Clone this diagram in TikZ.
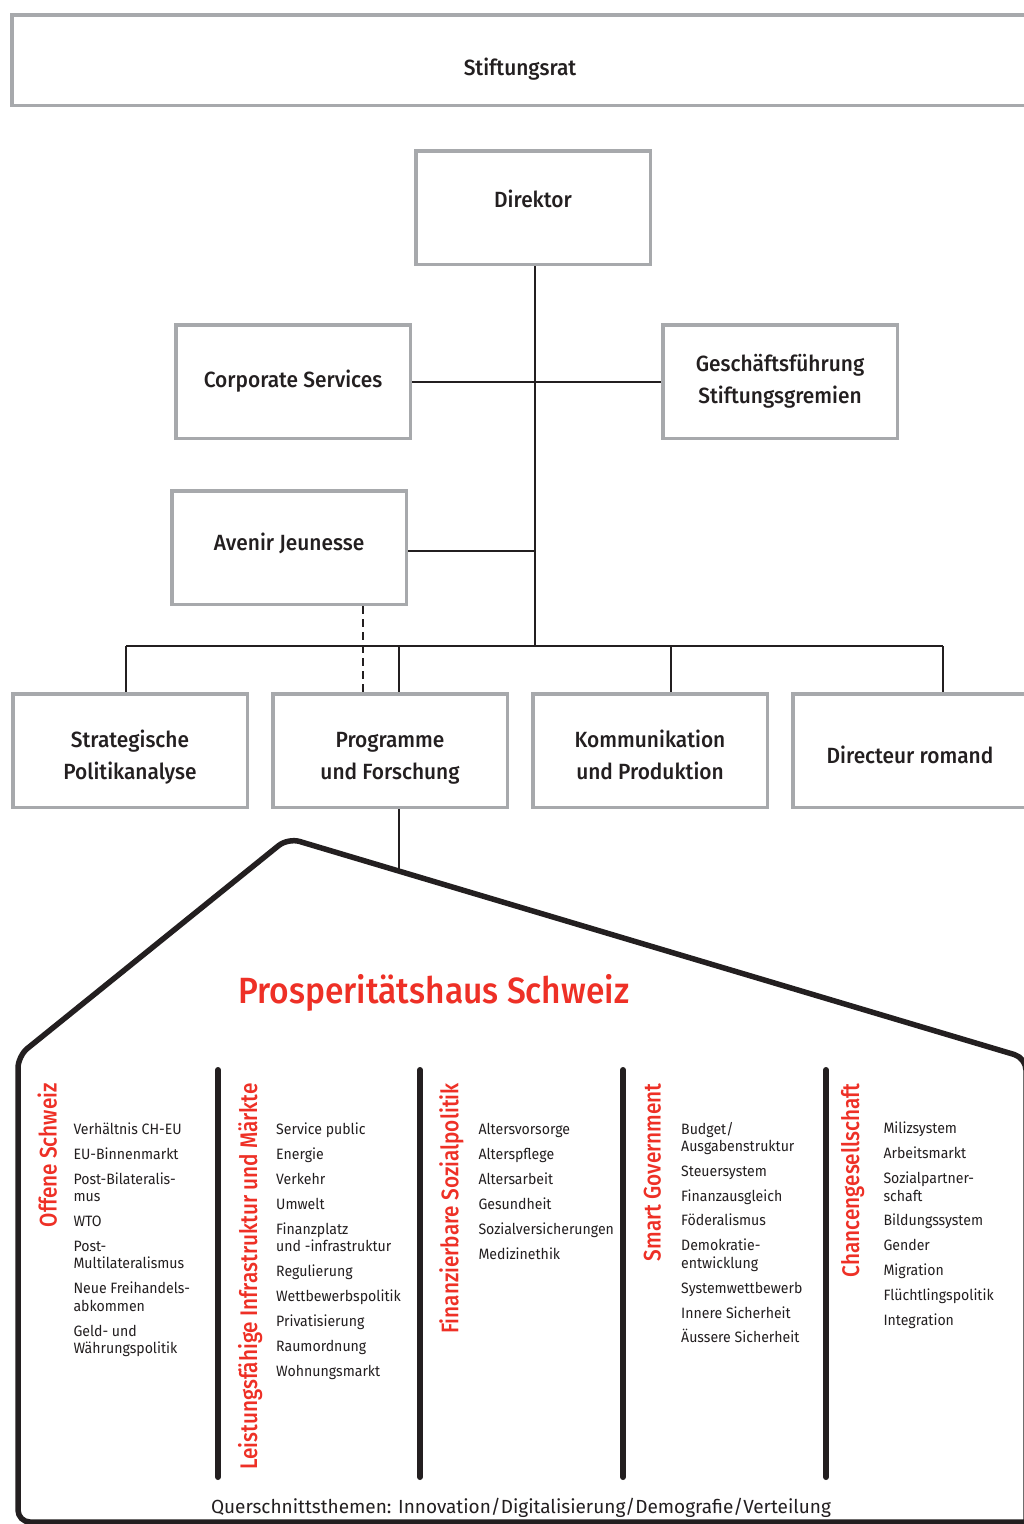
\documentclass[tikz,border=0pt]{standalone}
\usepackage{fontspec}
\setmainfont{Fira Sans}[FakeStretch=0.94]
\newfontfamily\qfont{Fira Sans}
\newfontfamily\medfont{Fira Sans Medium}[FakeStretch=0.95]
\newfontfamily\phfont{Fira Sans Medium}[FakeStretch=0.92]
\newfontfamily\ttlfont{Fira Sans Medium}[FakeStretch=0.865]
\definecolor{boxgray}{HTML}{A7A9AC}
\definecolor{ink}{HTML}{231F20}
\definecolor{hred}{HTML}{EE3026}
\newcommand\itm[4]{\node[itm] (#1) at (#2,#3) {#4};}
\begin{document}
\begin{tikzpicture}[x=1pt,y=-1pt,
  box/.style={draw=boxgray, line width=3.5pt, inner sep=0pt, fill=white,
    minimum width=234.5pt, minimum height=113.5pt},
  boxtxt/.style={font=\medfont\fontsize{22}{32}\selectfont, text=ink, align=center,
    inner sep=0pt, text height=15pt, text depth=0pt},
  conn/.style={draw=ink, line width=2pt},
  itm/.style={anchor=base west, inner sep=0pt, font=\fontsize{15}{17.5}\selectfont, text=ink},
  ttl/.style={anchor=base east, rotate=90, inner sep=0pt,
    font=\ttlfont\fontsize{24}{24}\selectfont, text=hred},
  pillar/.style={draw=ink, line width=6pt, line cap=round},
  house/.style={draw=ink, line width=5.5pt, rounded corners=12pt, line join=round}]
\useasboundingbox (0,0) rectangle (1024,1524);
\clip (0,0) rectangle (1024,1524);
\fill[white] (0,0) rectangle (1024,1524);

% boxes
\node[box, minimum width=1016.5pt, minimum height=90.5pt] (rat) at (520,60) {};
\node[box] (dir) at (533,207.5) {};
\node[box] (cs) at (293,381.5) {};
\node[box] (gf) at (780,381.5) {};
\node[box] (av) at (289,547.5) {};
\node[box] (sp) at (130,750.5) {};
\node[box] (pf) at (390,750.5) {};
\node[box] (kp) at (650,750.5) {};
\node[box] (dr) at (910,750.5) {};

% box texts
\node[boxtxt] (rat-t) at (520,68) {Stiftungsrat};
\node[boxtxt] (dir-t) at (533,199.5) {Direktor};
\node[boxtxt] (cs-t) at (293,380) {Corporate Services};
\node[boxtxt] (gf-t) at (780,396) {Geschäftsführung\\Stiftungsgremien};
\node[boxtxt] (av-t) at (289,542.5) {Avenir Jeunesse};
\node[boxtxt] (sp-t) at (130,772) {Strategische\\Politikanalyse};
\node[boxtxt] (pf-t) at (390,772) {Programme\\und Forschung};
\node[boxtxt] (kp-t) at (650,772) {Kommunikation\\und Produktion};
\node[boxtxt] (dr-t) at (910,755.5) {Directeur romand};

% connectors
\coordinate (bus) at (535,646);
\coordinate (j1) at (126,646);
\coordinate (j2) at (399,646);
\coordinate (j3) at (671,646);
\coordinate (j4) at (943,646);
\coordinate (dx) at (363,646);
\coordinate (rooftop) at (399,871);
\draw[conn] ([xshift=2pt]dir.south) -- (bus);
\draw[conn] (cs.east) -- (gf.west);
\draw[conn] ([yshift=-3.5pt]av.east) -- ([yshift=-3.5pt]av.east -| bus);
\draw[conn] (j1) -- (j4);
\draw[conn] (j1) -- (j1 |- sp.north);
\draw[conn] (j2) -- (j2 |- pf.north);
\draw[conn] (j3) -- (j3 |- kp.north);
\draw[conn] (j4) -- (j4 |- dr.north);
\draw[conn, dash pattern=on 8pt off 5pt] (dx |- av.south) -- (dx |- pf.north);
\draw[conn] (rooftop |- pf.south) -- (rooftop);

% house
\draw[house] (1045,1522) -- (18,1522) -- (18,1056) -- (288,838) -- (1026,1058) -- (1026,1545);
\foreach \px in {218,420,623,826} \draw[pillar] (\px,1070) -- (\px,1477);

\node[anchor=base west, inner sep=0pt, font=\phfont\fontsize{36.5}{40}\selectfont, text=hred] (ph) at (238,1003) {Prosperitätshaus Schweiz};
\node[anchor=base, inner sep=0pt, font=\qfont\fontsize{19}{22}\selectfont, text=ink] (qt) at (521,1513) {Querschnittsthemen: Innovation/Digitalisierung/Demografie/Verteilung};

% pillar titles
\node[ttl] (t1) at (56.7,1083) {Offene Schweiz};
\node[ttl] (t2) at (257,1083) {Leistungsfähige Infrastruktur und Märkte};
\node[ttl] (t3) at (458.3,1083) {Finanzierbare Sozialpolitik};
\node[ttl] (t4) at (660.7,1083) {Smart Government};
\node[ttl] (t5) at (859,1083) {Chancengesellschaft};

% column 1
\itm{a1}{73.3}{1134}{Verhältnis CH-EU}
\itm{a2}{73.3}{1159}{EU-Binnenmarkt}
\itm{a3}{73.3}{1184}{Post-Bilateralis-}
\itm{a3b}{73.3}{1201.5}{mus}
\itm{a4}{73.3}{1226}{WTO}
\itm{a5}{73.3}{1251}{Post-}
\itm{a5b}{73.3}{1268.5}{Multilateralismus}
\itm{a6}{73.3}{1293.5}{Neue Freihandels-}
\itm{a6b}{73.3}{1311}{abkommen}
\itm{a7}{73.3}{1336}{Geld- und}
\itm{a7b}{73.3}{1353.5}{Währungspolitik}
% column 2
\itm{b1}{276}{1134}{Service public}
\itm{b2}{276}{1159}{Energie}
\itm{b3}{276}{1184}{Verkehr}
\itm{b4}{276}{1209}{Umwelt}
\itm{b5}{276}{1234}{Finanzplatz}
\itm{b5b}{276}{1251}{und -infrastruktur}
\itm{b6}{276}{1276}{Regulierung}
\itm{b7}{276}{1301}{Wettbewerbspolitik}
\itm{b8}{276}{1326}{Privatisierung}
\itm{b9}{276}{1351}{Raumordnung}
\itm{b10}{276}{1376}{Wohnungsmarkt}
% column 3
\itm{c1}{478.3}{1134}{Altersvorsorge}
\itm{c2}{478.3}{1159}{Alterspflege}
\itm{c3}{478.3}{1184}{Altersarbeit}
\itm{c4}{478.3}{1209}{Gesundheit}
\itm{c5}{478.3}{1234}{Sozialversicherungen}
\itm{c6}{478.3}{1259}{Medizinethik}
% column 4
\itm{d1}{681}{1134}{Budget/}
\itm{d1b}{681}{1151.7}{Ausgabenstruktur}
\itm{d2}{681}{1176.7}{Steuersystem}
\itm{d3}{681}{1201.7}{Finanzausgleich}
\itm{d4}{681}{1225.7}{Föderalismus}
\itm{d5}{681}{1250.7}{Demokratie-}
\itm{d5b}{681}{1268.3}{entwicklung}
\itm{d6}{681}{1293.3}{Systemwettbewerb}
\itm{d7}{681}{1318.3}{Innere Sicherheit}
\itm{d8}{681}{1342.7}{Äussere Sicherheit}
% column 5
\itm{e1}{883.3}{1133.3}{Milizsystem}
\itm{e2}{883.3}{1158.3}{Arbeitsmarkt}
\itm{e3}{883.3}{1183.3}{Sozialpartner-}
\itm{e3b}{883.3}{1201}{schaft}
\itm{e4}{883.3}{1225.7}{Bildungssystem}
\itm{e5}{883.3}{1250.7}{Gender}
\itm{e6}{883.3}{1275.7}{Migration}
\itm{e7}{883.3}{1300.7}{Flüchtlingspolitik}
\itm{e8}{883.3}{1325.7}{Integration}
\end{tikzpicture}
\end{document}
